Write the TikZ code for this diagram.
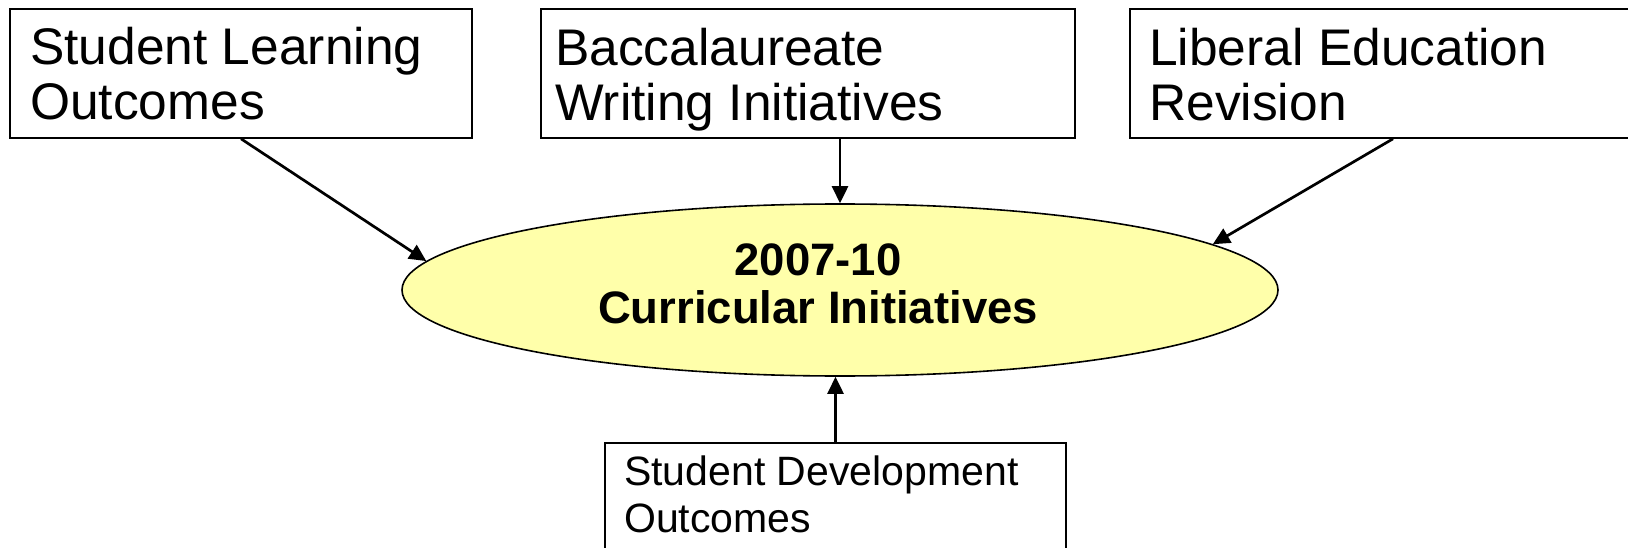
\documentclass[tikz,border=0pt]{standalone}
\usepackage{fontspec}
\setmainfont{Liberation Sans}
\usetikzlibrary{arrows.meta,shapes.geometric}
\definecolor{ellfill}{RGB}{255,255,170}
\tikzset{
  box/.style={draw=black, line width=1.6pt, fill=white, rectangle, inner sep=0pt},
  bigtxt/.style={anchor=north west, inner sep=0pt, align=left, font=\fontsize{51.5}{55}\selectfont},
  smalltxt/.style={anchor=north west, inner sep=0pt, align=left, font=\fontsize{41}{46.5}\selectfont},
  centtxt/.style={anchor=north, inner sep=0pt, align=center, font=\fontsize{45.5}{48}\selectfont\bfseries},
  oval/.style={draw=black, line width=1.6pt, fill=ellfill, ellipse, inner sep=0pt},
  conn/.style={line width=2.7pt, -{Triangle[length=17pt,width=16pt]}}
}
\begin{document}
\begin{tikzpicture}[x=1pt,y=-1pt]
\useasboundingbox (0,0) rectangle (1628,548);
\fill[white] (0,0) rectangle (1628,548);
% boxes
\node[box, minimum width=462pt, minimum height=129pt] (slo) at (241,73.5) {};
\node[box, minimum width=534pt, minimum height=129pt] (bwi) at (808,73.5) {};
\node[box, minimum width=526pt, minimum height=129pt] (ler) at (1393,73.5) {};
\node[box, minimum width=461pt, minimum height=117pt] (sdo) at (835.5,501.5) {};
% ellipse
\node[oval, minimum width=876pt, minimum height=172pt] (ci) at (840,290) {};
% texts
\node[bigtxt] (slot) at (30,27) {Student Learning\\Outcomes};
\node[bigtxt] (bwit) at (555,28) {Baccalaureate\\Writing Initiatives};
\node[bigtxt] (lert) at (1149,28) {Liberal Education\\Revision};
\node[smalltxt] (sdot) at (624,456) {Student Development\\Outcomes};
\node[centtxt] (cit) at (818,244) {2007-10\\Curricular Initiatives};
% connectors
\draw[conn] (slo.south) -- (ci.176.8);
\draw[conn] (ci.north |- bwi.south) -- (ci.north);
\draw[conn] (ler.south) -- (ci.7);
\draw[conn] (sdo.north) -- (sdo.north |- ci.south);
\end{tikzpicture}
\end{document}
